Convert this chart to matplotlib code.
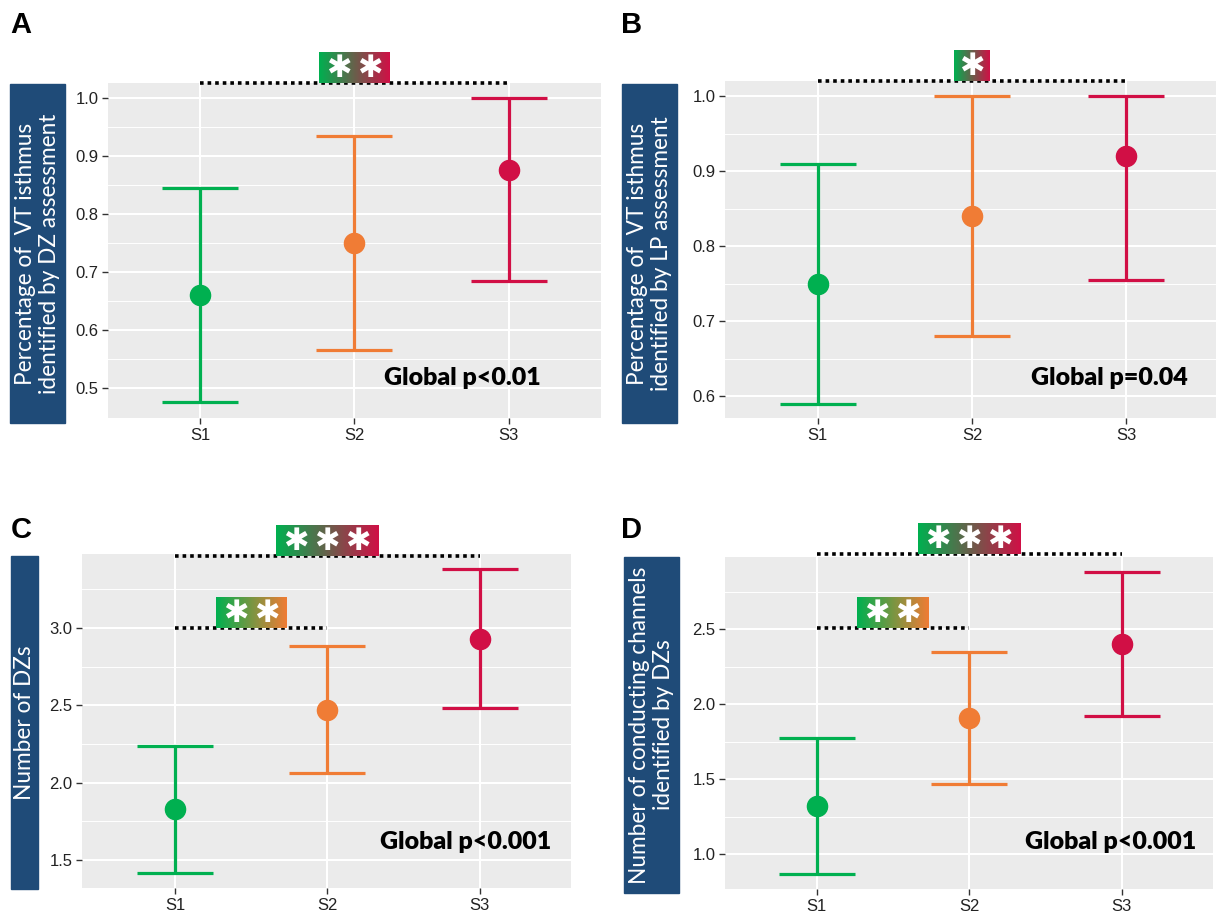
import numpy as np
import matplotlib
matplotlib.use("Agg")
from matplotlib import pyplot as plt
from matplotlib.patches import Rectangle

W, H = 1216, 914

GROUPS = ["S1", "S2", "S3"]
COLORS = ["#00B050", "#F07C35", "#D10F45"]

# panel A: VT isthmus identified by DZ assessment
a_mean = [0.66, 0.75, 0.876]
a_low = [0.475, 0.565, 0.685]
a_high = [0.845, 0.935, 1.0]

# panel B: VT isthmus identified by LP assessment
b_mean = [0.75, 0.84, 0.92]
b_low = [0.59, 0.68, 0.755]
b_high = [0.91, 1.0, 1.0]

# panel C: number of DZs
c_mean = [1.83, 2.47, 2.93]
c_low = [1.415, 2.06, 2.485]
c_high = [2.235, 2.885, 3.38]

# panel D: conducting channels identified by DZs
d_mean = [1.32, 1.905, 2.40]
d_low = [0.865, 1.465, 1.92]
d_high = [1.775, 2.345, 2.88]

BOX = "#1F4B78"
GREEN = np.array([0, 176, 80]) / 255
ORANGE = np.array([240, 124, 53]) / 255
RED = np.array([208, 16, 70]) / 255


def px_axes(l, t, r, b):
    return fig.add_axes([l / W, 1 - b / H, (r - l) / W, (b - t) / H])


def ylabel_box(l, t, r, b, text, size):
    fig.patches.append(Rectangle((l / W, 1 - b / H), (r - l) / W, (b - t) / H,
                                 transform=fig.transFigure, color=BOX, zorder=0))
    fig.text((l + r) / 2 / W, 1 - (t + b) / 2 / H, text, rotation=90, color="white",
             ha="center", va="center", fontsize=size, family="Lato",
             linespacing=1.12)


def panel(ax, mean, low, high, ylim, xlim, major, minor):
    x = np.arange(1, 4)
    ax.set_facecolor("#EBEBEB")
    for xi, m, lo, hi, c in zip(x, mean, low, high, COLORS):
        ax.errorbar([xi], [m], yerr=[[m - lo], [hi - m]], fmt="o", color=c,
                    ms=14.5, lw=2.3, capsize=27.5, capthick=2.3, zorder=3)
    ax.set_xlim(*xlim)
    ax.set_ylim(*ylim)
    ax.set_xticks(x)
    ax.set_xticklabels(GROUPS)
    ax.set_yticks(major)
    ax.set_yticks(minor, minor=True)
    ax.grid(True, which="major", color="white", lw=1.5, zorder=0)
    ax.grid(True, which="minor", axis="y", color="white", lw=0.7, zorder=0)
    ax.set_axisbelow(True)
    for s in ax.spines.values():
        s.set_visible(False)
    ax.tick_params(which="major", length=4, width=1, color="#333333",
                   labelsize=12, labelcolor="#222222", pad=3)
    ax.tick_params(which="minor", length=0)
    for lab in ax.get_xticklabels() + ax.get_yticklabels():
        lab.set_family("Liberation Sans")


def sig(ax, x0, x1, y, xc, half, nstar, c1, c2):
    ax.plot([x0, x1], [y, y], color="black", lw=2.6, ls=(0, (1, 1.1)),
            dash_capstyle="butt", clip_on=False, zorder=4)
    y0, y1 = ax.get_ylim()
    bb = ax.get_window_extent()
    xl = ax.get_xlim()
    bh = 31 / bb.height * (y1 - y0)
    step = 31 / bb.width * (xl[1] - xl[0])
    grad = np.linspace(0, 1, 200)
    img = np.array([[c1 * (1 - g) + c2 * g for g in grad]])
    ax.imshow(img, extent=[xc - half, xc + half, y, y + bh], aspect="auto",
              clip_on=False, zorder=5, interpolation="bilinear")
    for k in range(nstar):
        xs = xc + (k - (nstar - 1) / 2) * step
        ax.text(xs, y + bh * 0.46, "✱", color="white", ha="center", va="center",
                fontsize=22, family="DejaVu Sans", zorder=6, clip_on=False)
    ax.set_xlim(xl)
    ax.set_ylim(y0, y1)


def global_p(ax, x, y, text):
    ax.text(x, y, text, ha="right", va="center", fontsize=18, fontweight="heavy",
            family="Lato", zorder=6)


fig = plt.figure(figsize=(W / 100, H / 100), dpi=100)

# A
axA = px_axes(108, 83, 601, 418)
panel(axA, a_mean, a_low, a_high, (0.448, 1.026), (0.4, 3.6),
      [0.5, 0.6, 0.7, 0.8, 0.9, 1.0], [0.55, 0.65, 0.75, 0.85, 0.95])
ylabel_box(10, 84, 65, 423, "Percentage of  VT isthmus\nidentified by DZ assessment", 16.3)
sig(axA, 1, 3, 1.026, 2.0, 0.23, 2, GREEN, RED)
global_p(axA, 3.21, 0.517, "Global p<0.01")

# B
axB = px_axes(725, 81, 1216, 418)
panel(axB, b_mean, b_low, b_high, (0.571, 1.02), (0.4, 3.58),
      [0.6, 0.7, 0.8, 0.9, 1.0], [0.65, 0.75, 0.85, 0.95])
ylabel_box(622, 84, 677, 423, "Percentage of  VT isthmus\nidentified by LP assessment", 16.3)
sig(axB, 1, 3, 1.02, 2.0, 0.115, 1, GREEN, RED)
global_p(axB, 3.40, 0.624, "Global p=0.04")

# C
axC = px_axes(82, 554, 571, 888)
panel(axC, c_mean, c_low, c_high, (1.32, 3.478), (0.39, 3.6),
      [1.5, 2.0, 2.5, 3.0], [1.75, 2.25, 2.75, 3.25])
ylabel_box(11, 556, 38, 889, "Number of DZs", 16.3)
sig(axC, 1, 3, 3.465, 2.0, 0.335, 3, GREEN, RED)
sig(axC, 1, 2, 3.0, 1.5, 0.233, 2, GREEN, ORANGE)
global_p(axC, 3.47, 1.617, "Global p<0.001")

# D
axD = px_axes(725, 557, 1213, 889)
panel(axD, d_mean, d_low, d_high, (0.767, 2.98), (0.4, 3.6),
      [1.0, 1.5, 2.0, 2.5], [1.25, 1.75, 2.25, 2.75])
ylabel_box(624, 557, 679, 893, "Number of conducting channels\nidentified by DZs", 16.3)
sig(axD, 1, 3, 3.0, 2.0, 0.336, 3, GREEN, RED)
sig(axD, 1, 2, 2.51, 1.5, 0.235, 2, GREEN, ORANGE)
global_p(axD, 3.49, 1.08, "Global p<0.001")

for lab, x, y in [("A", 10, 25), ("B", 621, 25), ("C", 11, 530), ("D", 621, 530)]:
    fig.text(x / W, 1 - y / H, lab, fontsize=21, fontweight="bold",
             family="Liberation Sans", ha="left", va="center")

fig.savefig("out.png", dpi=100)
